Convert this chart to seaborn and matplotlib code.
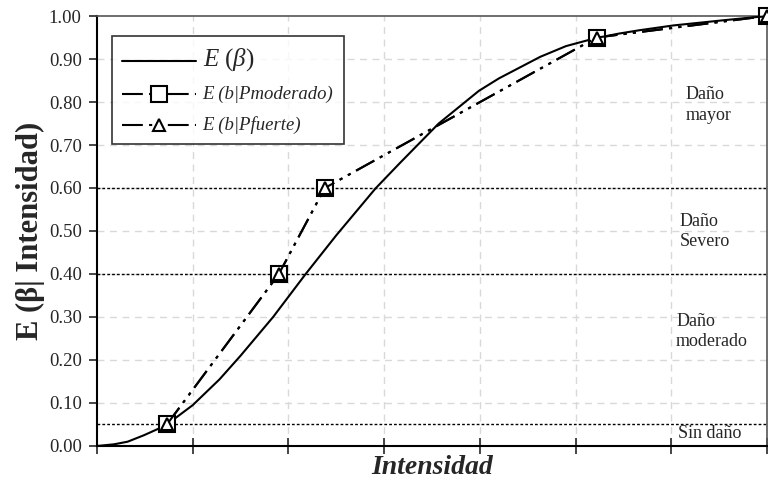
import matplotlib
matplotlib.use("Agg")
import matplotlib.pyplot as plt
import seaborn as sns
import pandas as pd

# E(beta) curve
curve_x = [0.0, 0.18, 0.32, 0.49, 0.65, 0.79, 1.0, 1.28, 1.5, 1.84, 2.18, 2.5, 2.91, 3.16, 3.57, 3.99, 4.2, 4.63, 4.9, 5.2, 5.45, 5.67, 6.02, 6.54, 7.0]
curve_y = [0.0, 0.004, 0.01, 0.025, 0.041, 0.06, 0.095, 0.155, 0.21, 0.30, 0.40, 0.49, 0.599, 0.657, 0.75, 0.826, 0.855, 0.905, 0.93, 0.948, 0.959, 0.967, 0.978, 0.990, 1.0]

# discrete points
mod_x = [0.73, 1.90, 2.38, 5.22, 7.0]
mod_y = [0.05, 0.40, 0.60, 0.95, 1.0]
fue_x = [0.73, 1.90, 2.38, 5.22, 7.0]
fue_y = [0.05, 0.40, 0.60, 0.95, 1.0]

thresholds = [0.05, 0.40, 0.60]
zone_labels = ["Daño\nmayor", "Daño\nSevero", "Daño\nmoderado", "Sin daño"]
zone_x = [6.15, 6.09, 6.05, 6.07]
zone_y = [0.793, 0.498, 0.267, 0.030]
y_ticks = [0.0, 0.1, 0.2, 0.3, 0.4, 0.5, 0.6, 0.7, 0.8, 0.9, 1.0]

sns.set_style("ticks")
plt.rcParams['font.family'] = ['Liberation Serif', 'DejaVu Serif']
plt.rcParams['mathtext.fontset'] = 'custom'
plt.rcParams['mathtext.it'] = 'Liberation Serif:italic'
plt.rcParams['mathtext.rm'] = 'Liberation Serif'

fig = plt.figure(figsize=(7.68, 4.82), dpi=100)
ax = fig.add_axes([0.1263, 0.0747, 0.8724, 0.8921])

df_c = pd.DataFrame({"x": curve_x, "y": curve_y})
df_m = pd.DataFrame({"x": mod_x, "y": mod_y})
df_f = pd.DataFrame({"x": fue_x, "y": fue_y})

# grid
for gx in range(1, 7):
    ax.axvline(gx, color="#d9d9d9", lw=1.0, ls=(0, (5, 4)), zorder=0)
for gy in y_ticks[1:-1]:
    ax.axhline(gy, color="#d9d9d9", lw=1.0, ls=(0, (5, 4)), zorder=0)
for t in thresholds:
    ax.axhline(t, color="black", lw=1.0, ls=(0, (2, 1.5)), zorder=1)

sns.lineplot(data=df_c, x="x", y="y", ax=ax, color="black", lw=1.5,
             label=r"$E\ (\beta)$", sort=False, zorder=3)
sns.lineplot(data=df_m, x="x", y="y", ax=ax, color="black", lw=1.5,
             marker="s", markersize=11, markerfacecolor="white",
             markeredgecolor="black", markeredgewidth=1.5,
             label="E (b|Pmoderado)", sort=False, zorder=4, clip_on=False)
sns.lineplot(data=df_f, x="x", y="y", ax=ax, color="black", lw=1.5,
             marker="^", markersize=9, markerfacecolor="white",
             markeredgecolor="black", markeredgewidth=1.5,
             label="E (b|Pfuerte)", sort=False, zorder=5, clip_on=False)
lines = ax.get_lines()
lines[-2].set_dashes([10, 3, 1.5, 3, 1.5, 3])
lines[-1].set_dashes([10, 3, 1.5, 3, 1.5, 3])

for lab, zx, zy in zip(zone_labels, zone_x, zone_y):
    ax.text(zx, zy, lab, fontsize=13, ha="left", va="center", linespacing=1.25)

ax.set_xlim(0, 7)
ax.set_ylim(0, 1)
ax.set_xticks(range(0, 8))
ax.set_xticklabels([])
ax.set_yticks(y_ticks)
ax.set_yticklabels([f"{v:.2f}" for v in y_ticks], fontsize=13.5)
ax.tick_params(axis="x", direction="inout", length=12, width=1.2)
ax.tick_params(axis="y", direction="out", length=6, width=1.2, pad=5)
ax.set_xlabel("Intensidad", fontsize=20, fontweight="bold", style="italic", va="center")
ax.xaxis.set_label_coords(0.5, -0.05)
ax.set_ylabel("E (β| Intensidad)", fontsize=22, fontweight="bold", va="center")
ax.yaxis.set_label_coords(-0.1, 0.5)
for s in ["left", "bottom"]:
    ax.spines[s].set_linewidth(1.5)
    ax.spines[s].set_color("black")
for s in ["top", "right"]:
    ax.spines[s].set_linewidth(1.2)
    ax.spines[s].set_color("#555555")

leg = ax.legend(loc="upper left", bbox_to_anchor=(0.022, 0.953), borderaxespad=0,
                frameon=True, fancybox=False, edgecolor="black", handlelength=5.3,
                labelspacing=0.9, borderpad=0.75, handletextpad=0.5)
leg.get_frame().set_linewidth(1.2)
texts = leg.get_texts()
texts[0].set_fontsize(18)
for t in texts[1:]:
    t.set_fontsize(13.5)
    t.set_style("italic")

fig.savefig("out.png", dpi=100)
